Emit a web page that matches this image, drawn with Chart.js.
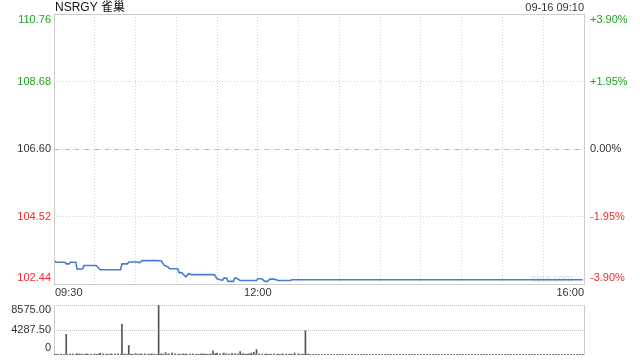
<!DOCTYPE html>
<html>
<head>
<meta charset="utf-8">
<script src="https://cdn.jsdelivr.net/npm/chart.js@4.4.0/dist/chart.umd.min.js"></script>
<style>
html, body { margin: 0; padding: 0; background: #fff; }
#wrap { position: relative; width: 640px; height: 360px; }
#wrap canvas { position: absolute; left: 0; top: 0; }
</style>
</head>
<body>
<div id="wrap">
  <canvas id="priceChart" width="640" height="360"></canvas>
  <canvas id="volChart" width="640" height="360"></canvas>
</div>
<script>
// minutes after 09:30 and the price at that minute
const priceMinutes = [0, 1, 8, 9, 11, 12, 16, 17, 21, 22, 31, 34, 49, 50, 54, 55, 61, 63, 65, 76, 79, 81, 84, 85, 91, 92, 94, 96, 97, 99, 101, 118, 120, 124, 125, 127, 128, 132, 133, 134, 137, 149, 150, 153, 155, 157, 159, 162, 165, 174, 175, 389];
const prices = [103.20, 103.11, 103.11, 103.06, 103.06, 103.11, 103.11, 102.90, 102.90, 103.01, 103.01, 102.88, 102.88, 103.06, 103.06, 103.12, 103.12, 103.10, 103.16, 103.16, 103.15, 103.02, 102.96, 102.91, 102.91, 102.79, 102.79, 102.70, 102.66, 102.76, 102.73, 102.73, 102.60, 102.55, 102.62, 102.62, 102.52, 102.52, 102.62, 102.62, 102.55, 102.55, 102.60, 102.60, 102.52, 102.52, 102.59, 102.59, 102.55, 102.55, 102.57, 102.57];

const volMinutes = [2, 5, 9, 12, 14, 17, 19, 21, 24, 27, 30, 33, 34, 36, 39, 42, 45, 47, 50, 52, 55, 57, 60, 62, 64, 67, 70, 72, 74, 77, 79, 82, 84, 87, 89, 92, 95, 97, 100, 102, 105, 108, 110, 112, 115, 117, 119, 120, 122, 125, 127, 129, 131, 133, 135, 137, 139, 141, 143, 145, 147, 149, 151, 153, 156, 159, 162, 165, 168, 171, 174, 177, 180, 183, 185, 187];
const volumes = [120, 150, 3550, 200, 150, 250, 180, 150, 200, 150, 180, 150, 300, 200, 150, 180, 150, 200, 5300, 200, 1630, 150, 250, 150, 200, 180, 150, 200, 150, 8575, 200, 400, 200, 350, 200, 150, 200, 180, 150, 200, 150, 180, 200, 150, 200, 700, 250, 350, 200, 350, 200, 150, 300, 200, 180, 580, 250, 150, 200, 350, 450, 930, 200, 150, 200, 150, 180, 150, 200, 150, 180, 350, 200, 150, 4150, 150];

const priceTicks = [102.44, 104.52, 106.60, 108.68, 110.76];
const pctTicks = ['-3.90%', '-1.95%', '0.00%', '+1.95%', '+3.90%'];
const volTicks = [0, 4287.5, 8575];
const volTickLabels = ['0', '4287.50', '8575.00'];
const timeMinutes = [0, 150, 390];
const timeLabels = ['09:30', '12:00', '16:00'];

const FONT = '11px "Liberation Sans", Arial, sans-serif';
const GREEN = '#1fa31f';
const RED = '#f02b2b';
const DARK = '#333333';

function hline(ctx, x1, x2, y) {
    ctx.beginPath(); ctx.moveTo(x1, y); ctx.lineTo(x2, y); ctx.stroke();
}
function vline(ctx, x, y1, y2) {
    ctx.beginPath(); ctx.moveTo(x, y1); ctx.lineTo(x, y2); ctx.stroke();
}

const priceFrame = {
    id: 'priceFrame',
    beforeDatasetsDraw(chart) {
        const { ctx, chartArea: a, scales: { y } } = chart;
        ctx.save();
        ctx.lineWidth = 1;
        const mid = Math.round(y.getPixelForValue(priceTicks[2])) + 0.5;
        ctx.strokeStyle = '#d4d4d4';
        ctx.setLineDash([1, 2]);
        hline(ctx, a.left, a.right, mid);
        ctx.strokeStyle = '#f4a46c';
        ctx.setLineDash([4, 6]);
        hline(ctx, a.left + 1, a.right, mid);
        ctx.setLineDash([]);
        // watermark
        ctx.fillStyle = '#dcdcdc';
        ctx.font = '10.5px "Liberation Sans", Arial, sans-serif';
        ctx.textAlign = 'right';
        ctx.textBaseline = 'middle';
        ctx.fillText('sina.com', a.right - 11, a.bottom - 5);
        ctx.restore();
    },
    afterDraw(chart) {
        const { ctx, chartArea: a, scales: { x, y } } = chart;
        ctx.save();
        ctx.lineWidth = 1;
        ctx.strokeStyle = '#cccccc';
        ctx.strokeRect(a.left + 0.5, a.top + 0.5, a.right - a.left, a.bottom - a.top);

        ctx.font = FONT;
        ctx.textBaseline = 'middle';
        priceTicks.forEach((v, i) => {
            let py = y.getPixelForValue(v);
            if (i === priceTicks.length - 1) py += 6;
            if (i === 0) py -= 6;
            const col = v > priceTicks[2] ? GREEN : (v < priceTicks[2] ? RED : DARK);
            ctx.fillStyle = col;
            ctx.textAlign = 'right';
            ctx.fillText(v.toFixed(2), a.left - 3, py);
            ctx.textAlign = 'left';
            ctx.fillText(pctTicks[i], a.right + 6, py);
        });

        ctx.fillStyle = DARK;
        timeMinutes.forEach((m, i) => {
            const px = x.getPixelForValue(m);
            ctx.textAlign = i === 0 ? 'left' : (i === timeMinutes.length - 1 ? 'right' : 'center');
            ctx.fillText(timeLabels[i], px + (i === 0 ? 1 : 0), a.bottom + 9);
        });

        ctx.fillStyle = '#111';
        ctx.font = '12px "Liberation Sans", Arial, "Noto Sans CJK SC", sans-serif';
        ctx.textAlign = 'left';
        ctx.fillText('NSRGY 雀巢', a.left + 1, 8);
        ctx.font = FONT;
        ctx.fillStyle = DARK;
        ctx.textAlign = 'right';
        ctx.fillText('09-16 09:10', a.right, 8);
        ctx.restore();
    }
};

const volFrame = {
    id: 'volFrame',
    afterDraw(chart) {
        const { ctx, chartArea: a, scales: { y } } = chart;
        ctx.save();
        ctx.lineWidth = 1;
        ctx.strokeStyle = '#cccccc';
        vline(ctx, a.left + 0.5, a.top, a.bottom);
        vline(ctx, a.right + 0.5, a.top, a.bottom);
        ctx.strokeStyle = '#777777';
        ctx.setLineDash([2, 1]);
        hline(ctx, a.left, a.right, a.bottom - 0.5);
        ctx.setLineDash([]);

        ctx.font = FONT;
        ctx.fillStyle = DARK;
        ctx.textAlign = 'right';
        ctx.textBaseline = 'middle';
        volTicks.forEach((v, i) => {
            let py = y.getPixelForValue(v);
            if (i === volTicks.length - 1) py += 5;
            if (i === 0) py -= 7;
            ctx.fillText(volTickLabels[i], a.left - 3, py);
        });
        ctx.restore();
    }
};

new Chart(document.getElementById('priceChart'), {
    type: 'line',
    data: {
        datasets: [{
            data: priceMinutes.map((m, i) => ({ x: m, y: prices[i] })),
            borderColor: '#4a7bd2',
            borderWidth: 1.6,
            pointRadius: 0,
            tension: 0,
            fill: false
        }]
    },
    options: {
        responsive: false,
        animation: false,
        devicePixelRatio: 1,
        layout: { padding: { left: 54, right: 56, top: 14, bottom: 76 } },
        plugins: { legend: { display: false }, tooltip: { enabled: false } },
        scales: {
            x: {
                type: 'linear',
                min: 0,
                max: 390,
                afterFit: s => { s.height = 0; },
                ticks: { display: false, stepSize: 30 },
                grid: {
                    drawTicks: false,
                    color: c => (c.tick && (c.tick.value === 0 || c.tick.value === 390)) ? 'rgba(0,0,0,0)' : '#d0d0d0'
                },
                border: { display: false, dash: [1, 2] }
            },
            y: {
                min: priceTicks[0],
                max: priceTicks[priceTicks.length - 1],
                afterFit: s => { s.width = 0; },
                afterBuildTicks: s => { s.ticks = priceTicks.map(v => ({ value: v })); },
                ticks: { display: false },
                grid: {
                    drawTicks: false,
                    color: c => (c.tick && (c.tick.value === priceTicks[1] || c.tick.value === priceTicks[3])) ? '#d0d0d0' : 'rgba(0,0,0,0)'
                },
                border: { display: false, dash: [1, 2] }
            }
        }
    },
    plugins: [priceFrame]
});

new Chart(document.getElementById('volChart'), {
    type: 'bar',
    data: {
        datasets: [{
            data: volMinutes.map((m, i) => ({ x: m, y: volumes[i] })),
            backgroundColor: '#555555',
            barThickness: 1
        }]
    },
    options: {
        responsive: false,
        animation: false,
        devicePixelRatio: 1,
        layout: { padding: { left: 54, right: 56, top: 305, bottom: 5 } },
        plugins: { legend: { display: false }, tooltip: { enabled: false } },
        scales: {
            x: {
                type: 'linear',
                min: 0,
                max: 390,
                offset: false,
                afterFit: s => { s.height = 0; },
                ticks: { display: false },
                grid: { display: false },
                border: { display: false }
            },
            y: {
                min: 0,
                max: volTicks[volTicks.length - 1],
                afterFit: s => { s.width = 0; },
                afterBuildTicks: s => { s.ticks = volTicks.map(v => ({ value: v })); },
                ticks: { display: false },
                grid: {
                    drawTicks: false,
                    color: c => (c.tick && c.tick.value === 0) ? 'rgba(0,0,0,0)' : '#c4c4c4'
                },
                border: { display: false, dash: [1, 1] }
            }
        }
    },
    plugins: [volFrame]
});
</script>
</body>
</html>
